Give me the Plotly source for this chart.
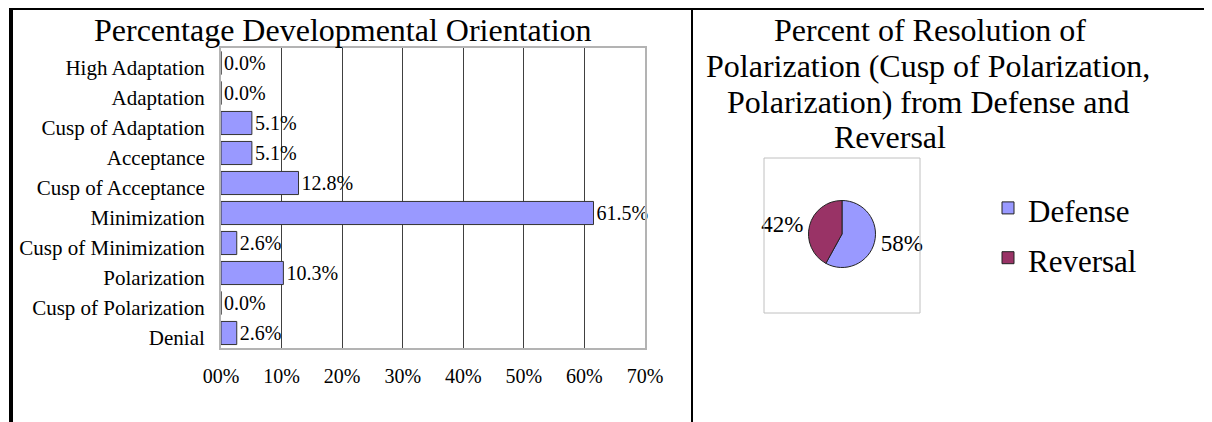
import plotly.graph_objects as go

# -----------------------------
# Data
# -----------------------------
stages = [
    "High Adaptation", "Adaptation", "Cusp of Adaptation", "Acceptance",
    "Cusp of Acceptance", "Minimization", "Cusp of Minimization",
    "Polarization", "Cusp of Polarization", "Denial",
]
stage_pct = [0.0, 0.0, 5.1, 5.1, 12.8, 61.5, 2.6, 10.3, 0.0, 2.6]

x_ticks = [0, 10, 20, 30, 40, 50, 60, 70]
x_tick_labels = ["00%", "10%", "20%", "30%", "40%", "50%", "60%", "70%"]

resolution_labels = ["Defense", "Reversal"]
resolution_values = [58, 42]

# -----------------------------
# Helpers: page pixel -> paper coords
# (the page body adds an 8px offset, so the figure is drawn 8px in)
# -----------------------------
OFF = 8
W, H = 1212 - OFF, 422 - OFF


def px_x(v):
    return (v - OFF) / W


def px_y(v):
    return 1 - (v - OFF) / H


SERIF = "Liberation Serif, Times New Roman, serif"
BLUE = "#9999FF"
PLUM = "#993366"

fig = go.Figure()

# Horizontal bar chart
fig.add_trace(go.Bar(
    x=stage_pct,
    y=stages,
    orientation="h",
    marker=dict(color=BLUE, line=dict(color="#333333", width=1)),
    texttemplate="%{x:.1f}%",
    textposition="outside",
    textfont=dict(family=SERIF, size=20, color="black"),
    cliponaxis=False,
    showlegend=False,
))

# Pie chart (legend font is larger than the shown text only to widen row spacing)
pie_cx, pie_cy, pie_r = 842, 234, 33.5
fig.add_trace(go.Pie(
    labels=[f"<span style='font-size:31px'>{s}</span>" for s in resolution_labels],
    values=resolution_values,
    sort=False,
    direction="clockwise",
    rotation=0,
    marker=dict(colors=[BLUE, PLUM], line=dict(color="#222222", width=1)),
    texttemplate="%{percent:.0%}",
    textposition="outside",
    outsidetextfont=dict(family=SERIF, size=23, color="black"),
    domain=dict(x=[px_x(pie_cx - pie_r), px_x(pie_cx + pie_r)],
                y=[px_y(pie_cy + pie_r), px_y(pie_cy - pie_r)]),
    hovertemplate="%{percent}<extra></extra>",
))

fig.update_layout(
    template="none",
    width=W,
    height=H,
    margin=dict(l=0, r=0, t=0, b=0, pad=0),
    paper_bgcolor="white",
    plot_bgcolor="white",
    font=dict(family=SERIF, color="black"),
    bargap=0.23,
    xaxis=dict(
        domain=[px_x(221), px_x(645)],
        range=[0, 70],
        automargin=False,
        tickvals=x_ticks,
        ticktext=x_tick_labels,
        tickfont=dict(size=20),
        ticks="outside", ticklen=9, tickcolor="rgba(0,0,0,0)",
        showgrid=True, gridcolor="#404040", gridwidth=1,
        zeroline=False,
        showline=True, linecolor="#b3b3b3", linewidth=2, mirror=True,
        fixedrange=True,
    ),
    yaxis=dict(
        domain=[px_y(348), px_y(48)],
        autorange="reversed",
        automargin=False,
        tickfont=dict(size=21),
        ticks="outside", ticklen=10, tickcolor="rgba(0,0,0,0)",
        ticklabelshift=-5,
        showgrid=False,
        zeroline=False,
        showline=True, linecolor="#b3b3b3", linewidth=2, mirror=True,
        fixedrange=True,
    ),
    legend=dict(
        x=px_x(988), y=px_y(178), xanchor="left", yanchor="top",
        font=dict(family=SERIF, size=36),
        bgcolor="rgba(0,0,0,0)",
    ),
)

# Titles (as separate lines to keep the original line breaks and spacing)
title_lines = [
    ("Percentage Developmental Orientation", 343, 30),
    ("Percent of Resolution of", 930, 30),
    ("Polarization (Cusp of Polarization,", 928, 66),
    ("Polarization) from Defense and", 928, 102),
    ("Reversal", 890, 137),
]
for text, cx, cy in title_lines:
    fig.add_annotation(
        text=text, x=px_x(cx), y=px_y(cy), xref="paper", yref="paper",
        xanchor="center", yanchor="middle", showarrow=False,
        font=dict(family=SERIF, size=32, color="black"),
    )

# Frame lines and pie plot-area box
fig.add_shape(type="line", xref="paper", yref="paper",
              x0=px_x(9), x1=1, y0=px_y(8.5), y1=px_y(8.5),
              line=dict(color="black", width=3))
fig.add_shape(type="line", xref="paper", yref="paper",
              x0=px_x(11), x1=px_x(11), y0=px_y(7), y1=0,
              line=dict(color="black", width=4))
fig.add_shape(type="line", xref="paper", yref="paper",
              x0=px_x(692), x1=px_x(692), y0=px_y(7), y1=0,
              line=dict(color="black", width=2))
fig.add_shape(type="rect", xref="paper", yref="paper",
              x0=px_x(764), x1=px_x(920), y0=px_y(313), y1=px_y(158),
              line=dict(color="#c0c0c0", width=1))

fig.write_html("out.html")
